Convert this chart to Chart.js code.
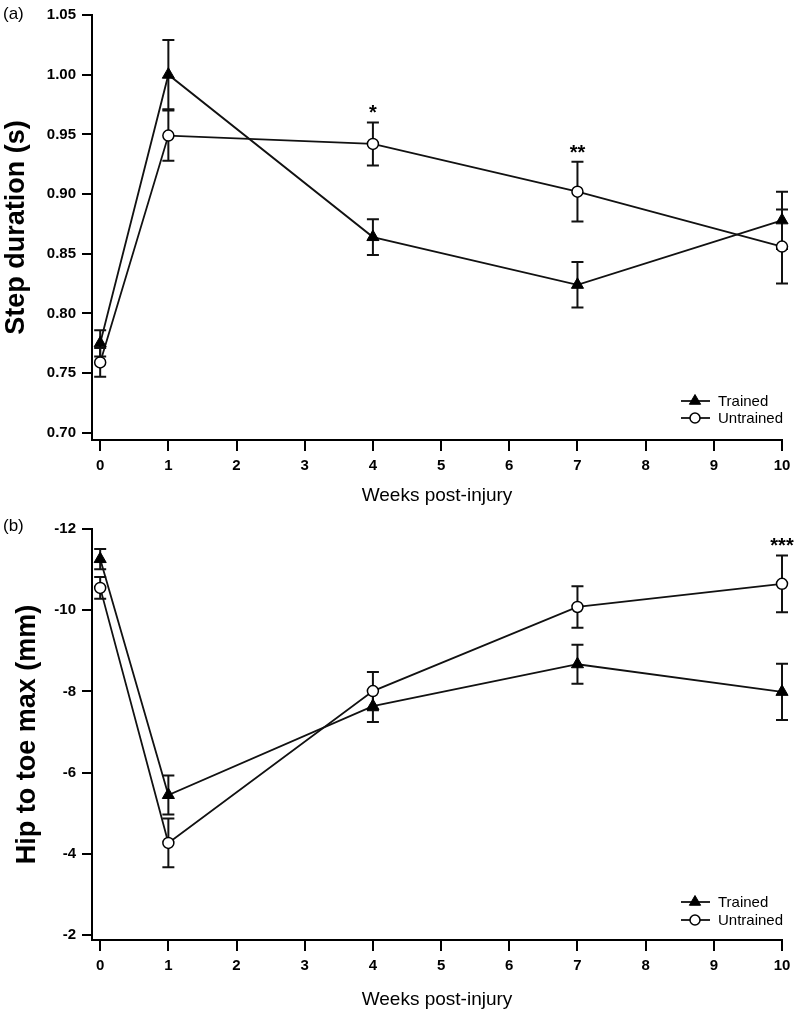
<!DOCTYPE html>
<html><head><meta charset="utf-8">
<script src="https://cdn.jsdelivr.net/npm/chart.js@4.4.1/dist/chart.umd.min.js"></script>
<style>
html,body{margin:0;padding:0;background:#fff;}
#wa{position:absolute;left:0;top:0;width:800px;height:508px;}
#wb{position:absolute;left:0;top:508px;width:800px;height:509px;}
</style></head><body>
<div id="wa"><canvas id="ca"></canvas></div>
<div id="wb"><canvas id="cb"></canvas></div>
<script>
// ---- data ----
const weeks = [0, 1, 4, 7, 10];
const xTicks = [0, 1, 2, 3, 4, 5, 6, 7, 8, 9, 10];
const seriesNames = ['Trained', 'Untrained'];

const stepTrained      = [0.775, 1.000, 0.864, 0.824, 0.878];
const stepTrainedErr   = [0.011, 0.029, 0.015, 0.019, 0.024];
const stepUntrained    = [0.759, 0.949, 0.942, 0.902, 0.856];
const stepUntrainedErr = [0.012, 0.021, 0.018, 0.025, 0.031];
const stepTicks = [0.70, 0.75, 0.80, 0.85, 0.90, 0.95, 1.00, 1.05];
const stepSig = ['', '', '*', '**', ''];

const hipTrained      = [-11.26, -5.45, -7.64, -8.67, -7.99];
const hipTrainedErr   = [0.25, 0.48, 0.39, 0.48, 0.69];
const hipUntrained    = [-10.55, -4.27, -8.01, -10.08, -10.65];
const hipUntrainedErr = [0.27, 0.60, 0.47, 0.51, 0.70];
const hipTicks = [-12, -10, -8, -6, -4, -2];
const hipSig = ['', '', '', '', '***'];

// ---- styling ----
const FONT = '"Liberation Sans", Arial, Helvetica, sans-serif';
Chart.defaults.font.family = FONT;
Chart.defaults.color = '#000';

const styles = [
  {pointStyle: 'triangle', radius: 7, bg: '#000', border: '#000', bw: 1},
  {pointStyle: 'circle', radius: 5.5, bg: '#fff', border: '#000', bw: 1.5}
];

function pts(vals){ return weeks.map((w, i) => ({x: w, y: vals[i]})); }

function makeDatasets(tr, trE, un, unE){
  return [[tr, trE], [un, unE]].map(([v, e], i) => ({
    label: seriesNames[i],
    data: pts(v),
    errors: e,
    clip: false,
    borderColor: '#111',
    borderWidth: 1.8,
    tension: 0,
    fill: false,
    pointStyle: styles[i].pointStyle,
    pointRadius: styles[i].radius,
    pointHoverRadius: styles[i].radius,
    pointBackgroundColor: styles[i].bg,
    pointBorderColor: styles[i].border,
    pointBorderWidth: styles[i].bw
  }));
}

const decorPlugin = {
  id: 'decor',
  beforeDatasetsDraw(chart){
    const {ctx, scales: {x, y}} = chart;
    ctx.save();
    ctx.strokeStyle = '#111';
    ctx.lineWidth = 2;
    chart.data.datasets.forEach(ds => {
      ds.data.forEach((p, j) => {
        const px = x.getPixelForValue(p.x);
        const y1 = y.getPixelForValue(p.y + ds.errors[j]);
        const y2 = y.getPixelForValue(p.y - ds.errors[j]);
        ctx.beginPath();
        ctx.moveTo(px, y1); ctx.lineTo(px, y2);
        ctx.moveTo(px - 6, y1); ctx.lineTo(px + 6, y1);
        ctx.moveTo(px - 6, y2); ctx.lineTo(px + 6, y2);
        ctx.stroke();
      });
    });
    ctx.restore();
  },
  afterDatasetsDraw(chart, args, opts){
    const {ctx, chartArea: ca, scales: {x, y}} = chart;
    ctx.save();
    // significance marks
    ctx.fillStyle = '#000';
    ctx.font = 'bold 20px ' + FONT;
    ctx.textAlign = 'center';
    ctx.textBaseline = 'alphabetic';
    opts.sig.forEach((s, j) => {
      if (!s) return;
      let top = Infinity;
      chart.data.datasets.forEach(ds => {
        const p = ds.data[j];
        top = Math.min(top, y.getPixelForValue(p.y + ds.errors[j]), y.getPixelForValue(p.y - ds.errors[j]));
      });
      ctx.fillText(s, x.getPixelForValue(weeks[j]), top - 3);
    });
    // legend
    const dys = opts.legendDy;
    chart.data.datasets.forEach((ds, i) => {
      const ly = ca.bottom + dys[i];
      ctx.strokeStyle = '#111';
      ctx.lineWidth = 1.8;
      ctx.beginPath();
      ctx.moveTo(ca.right - 101, ly); ctx.lineTo(ca.right - 72, ly);
      ctx.stroke();
      ctx.fillStyle = styles[i].bg;
      ctx.strokeStyle = styles[i].border;
      ctx.lineWidth = styles[i].bw;
      Chart.helpers.drawPoint(ctx, {pointStyle: styles[i].pointStyle, radius: styles[i].radius - 0.5, rotation: 0, borderWidth: styles[i].bw}, ca.right - 87, ly);
      ctx.fillStyle = '#000';
      ctx.font = '15px ' + FONT;
      ctx.textAlign = 'left';
      ctx.textBaseline = 'middle';
      ctx.fillText(ds.label, ca.right - 64, ly + 1);
    });
    // panel label
    ctx.font = '17px ' + FONT;
    ctx.textAlign = 'left';
    ctx.textBaseline = 'middle';
    ctx.fillText(opts.panel, 3, opts.panelY);
    ctx.restore();
  }
};

function makeChart(id, cfg){
  return new Chart(document.getElementById(id), {
    type: 'line',
    data: {datasets: cfg.datasets},
    plugins: [decorPlugin],
    options: {
      responsive: true,
      maintainAspectRatio: false,
      animation: false,
      events: [],
      layout: {padding: {left: 0, right: 18, top: cfg.padTop, bottom: 0}},
      plugins: {
        legend: {display: false},
        tooltip: {enabled: false},
        decor: {sig: cfg.sig, legendDy: cfg.legendDy, panel: cfg.panel, panelY: cfg.panelY}
      },
      scales: {
        x: {
          type: 'linear', min: -0.12, max: 10,
          afterBuildTicks: s => { s.ticks = xTicks.map(v => ({value: v})); },
          afterFit: s => { s.height = cfg.xHeight; },
          border: {display: true, color: '#000', width: 2},
          grid: {drawOnChartArea: false, drawTicks: true, color: '#000', lineWidth: 2, tickLength: 11},
          ticks: {color: '#000', font: {size: 15, weight: 'bold'}, padding: 6, maxRotation: 0, autoSkip: false},
          title: {display: true, text: 'Weeks post-injury', color: '#000', font: {size: 19}, padding: {top: 0, bottom: cfg.xTitlePad}}
        },
        y: {
          type: 'linear', min: cfg.yMin, max: cfg.yMax, reverse: cfg.reverse,
          afterBuildTicks: s => { s.ticks = cfg.yTicks.map(v => ({value: v})); },
          afterFit: s => { s.width = 92; },
          border: {display: true, color: '#000', width: 2},
          grid: {drawOnChartArea: false, drawTicks: true, color: '#000', lineWidth: 2, tickLength: 10},
          ticks: {color: '#000', font: {size: 15, weight: 'bold'}, padding: 6, callback: cfg.fmt, autoSkip: false},
          title: {display: true, text: cfg.yTitle, color: '#000', font: {size: 27, weight: 'bold'}, padding: {top: cfg.yTitlePad, bottom: 0}}
        }
      }
    }
  });
}

makeChart('ca', {
  datasets: makeDatasets(stepTrained, stepTrainedErr, stepUntrained, stepUntrainedErr),
  sig: stepSig, legendDy: [-39, -22], panel: '(a)', panelY: 14,
  padTop: 10, xHeight: 68, xTitlePad: 0.6,
  yMin: 0.694, yMax: 1.05, reverse: false, yTicks: stepTicks,
  fmt: v => Number(v).toFixed(2), yTitle: 'Step duration (s)', yTitlePad: 0
});

makeChart('cb', {
  datasets: makeDatasets(hipTrained, hipTrainedErr, hipUntrained, hipUntrainedErr),
  sig: hipSig, legendDy: [-38, -20], panel: '(b)', panelY: 18,
  padTop: 21, xHeight: 77, xTitlePad: 5.6,
  yMin: -12, yMax: -1.88, reverse: true, yTicks: hipTicks,
  fmt: v => String(v), yTitle: 'Hip to toe max (mm)', yTitlePad: 11
});
</script>
</body></html>
